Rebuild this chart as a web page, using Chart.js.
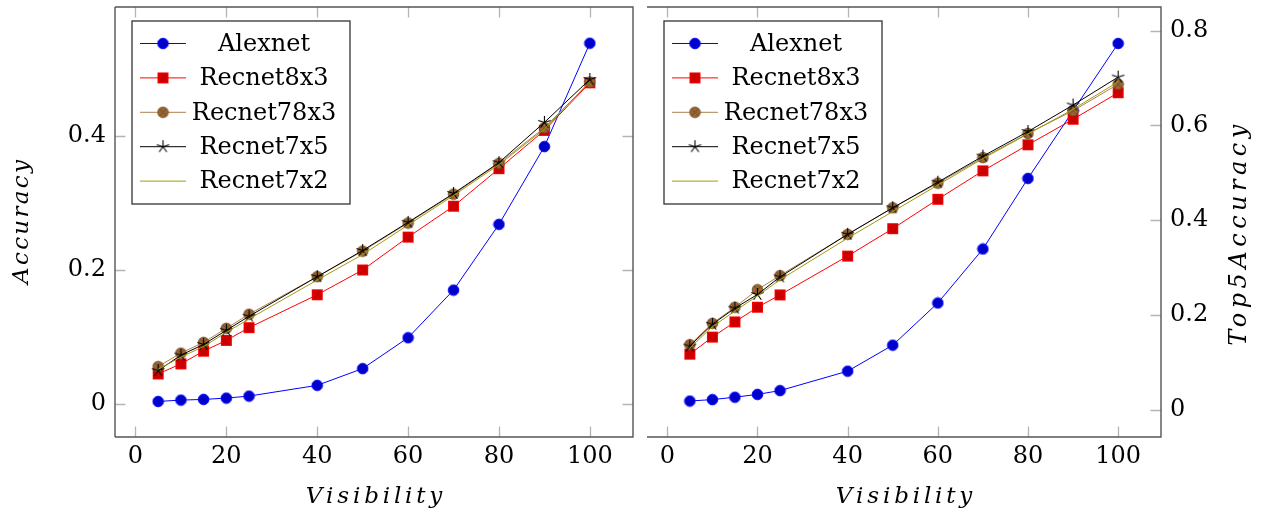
<!DOCTYPE html>
<html>
<head>
<meta charset="utf-8">
<script src="https://cdn.jsdelivr.net/npm/chart.js@4.4.1/dist/chart.umd.min.js"></script>
<style>
html, body { margin: 0; padding: 0; background: #fff; }
#wrap { position: relative; width: 1264px; height: 517px; }
.box { position: absolute; top: 0; height: 517px; }
</style>
</head>
<body>
<div id="wrap">
  <div class="box" style="left:0;width:640px"><canvas id="accChart"></canvas></div>
  <div class="box" style="left:640px;width:624px"><canvas id="top5Chart"></canvas></div>
</div>
<script>
var visibility = [5, 10, 15, 20, 25, 40, 50, 60, 70, 80, 90, 100];
var seriesNames = ['Alexnet', 'Recnet8x3', 'Recnet78x3', 'Recnet7x5', 'Recnet7x2'];

// left panel: accuracy
var accAlexnet    = [0.004, 0.006, 0.007, 0.009, 0.012, 0.028, 0.053, 0.099, 0.170, 0.268, 0.384, 0.538];
var accRecnet8x3  = [0.045, 0.060, 0.079, 0.095, 0.114, 0.163, 0.200, 0.249, 0.295, 0.351, 0.408, 0.479];
var accRecnet78x3 = [0.056, 0.076, 0.092, 0.113, 0.134, 0.190, 0.228, 0.270, 0.313, 0.359, 0.412, 0.480];
var accRecnet7x5  = [0.050, 0.073, 0.089, 0.110, 0.131, 0.190, 0.229, 0.271, 0.314, 0.360, 0.420, 0.484];
var accRecnet7x2  = [0.052, 0.070, 0.086, 0.107, 0.127, 0.185, 0.223, 0.267, 0.311, 0.357, 0.410, 0.481];

// right panel: top-5 accuracy
var top5Alexnet    = [0.018, 0.021, 0.026, 0.032, 0.040, 0.081, 0.136, 0.225, 0.339, 0.488, 0.631, 0.773];
var top5Recnet8x3  = [0.117, 0.153, 0.185, 0.216, 0.242, 0.324, 0.382, 0.444, 0.504, 0.559, 0.613, 0.669];
var top5Recnet78x3 = [0.137, 0.182, 0.216, 0.253, 0.283, 0.370, 0.426, 0.478, 0.532, 0.583, 0.631, 0.687];
var top5Recnet7x5  = [0.134, 0.180, 0.214, 0.243, 0.280, 0.370, 0.426, 0.480, 0.535, 0.587, 0.643, 0.702];
var top5Recnet7x2  = [0.130, 0.175, 0.208, 0.240, 0.274, 0.362, 0.418, 0.474, 0.530, 0.582, 0.634, 0.692];

var xTicks = [0, 20, 40, 60, 80, 100];
var xTickLabels = ['0', '20', '40', '60', '80', '100'];
var accTicks = [0, 0.2, 0.4];
var accTickLabels = ['0', '0.2', '0.4'];
var top5Ticks = [0, 0.2, 0.4, 0.6, 0.8];
var top5TickLabels = ['0', '0.2', '0.4', '0.6', '0.8'];

Chart.defaults.font.family = 'DejaVu Serif';
Chart.defaults.font.size = 24;
Chart.defaults.color = '#000';

// marker images, pgfplots style
function makeMark(size, draw) {
    var c = document.createElement('canvas');
    c.width = size; c.height = size;
    var g = c.getContext('2d');
    draw(g, size / 2);
    return c;
}
var markCircle = makeMark(13, function (g, m) {
    g.beginPath(); g.arc(m, m, 5.3, 0, Math.PI * 2);
    g.fillStyle = '#0000cc'; g.fill();
    g.strokeStyle = '#0000ff'; g.lineWidth = 1; g.stroke();
});
var markSquare = makeMark(13, function (g, m) {
    g.fillStyle = '#cc0000'; g.fillRect(m - 5, m - 5, 10, 10);
    g.strokeStyle = '#ff0000'; g.lineWidth = 1; g.strokeRect(m - 5, m - 5, 10, 10);
});
var markOtimes = makeMark(13, function (g, m) {
    g.beginPath(); g.arc(m, m, 5.3, 0, Math.PI * 2);
    g.fillStyle = '#996633'; g.fill();
    g.strokeStyle = '#6e4822'; g.lineWidth = 0.9; g.stroke();
    var d = 5.3 * Math.SQRT1_2;
    g.beginPath();
    g.moveTo(m - d, m - d); g.lineTo(m + d, m + d);
    g.moveTo(m + d, m - d); g.lineTo(m - d, m + d);
    g.stroke();
});
var markStar = makeMark(15, function (g, m) {
    g.strokeStyle = '#000'; g.lineWidth = 1.1;
    g.beginPath();
    for (var k = 0; k < 5; k++) {
        var ang = -Math.PI / 2 + k * 2 * Math.PI / 5;
        g.moveTo(m, m); g.lineTo(m + 6.5 * Math.cos(ang), m + 6.5 * Math.sin(ang));
    }
    g.stroke();
});

var lineColors = ['#0000ff', '#ff0000', '#b08050', '#000000', '#a09a10'];
var marks = [markCircle, markSquare, markOtimes, markStar, false];

function buildDatasets(list) {
    return list.map(function (arr, i) {
        return {
            label: seriesNames[i],
            data: visibility.map(function (v, j) { return { x: v, y: arr[j] }; }),
            borderColor: lineColors[i],
            backgroundColor: lineColors[i],
            borderWidth: 1,
            pointStyle: marks[i],
            pointRadius: marks[i] ? 6 : 0,
            pointHoverRadius: marks[i] ? 6 : 0,
            order: 4 - i
        };
    });
}

function noPad(s) {
    s.paddingTop = 0; s.paddingBottom = 0; s.paddingLeft = 0; s.paddingRight = 0;
}

// frame, inner ticks, boxed legend, right-hand title
var framePlugin = {
    id: 'frame',
    beforeDatasetsDraw: function (chart, args, opts) {
        var a = chart.chartArea, ctx = chart.ctx;
        var xs = chart.scales.x, ys = chart.scales.y;
        ctx.save();
        ctx.strokeStyle = '#b4b4b4';
        ctx.lineWidth = 1.3;
        ctx.beginPath();
        xTicks.forEach(function (v) {
            var px = Math.round(xs.getPixelForValue(v)) + 0.5;
            ctx.moveTo(px, a.bottom); ctx.lineTo(px, a.bottom - 10.5);
            ctx.moveTo(px, a.top); ctx.lineTo(px, a.top + 10.5);
        });
        opts.yTicks.forEach(function (v) {
            var py = Math.round(ys.getPixelForValue(v)) + 0.5;
            if (opts.leftTicks) { ctx.moveTo(a.left, py); ctx.lineTo(a.left + 10.5, py); }
            ctx.moveTo(a.right, py); ctx.lineTo(a.right - 10.5, py);
        });
        ctx.stroke();
        ctx.strokeStyle = '#555';
        ctx.lineWidth = 1.4;
        ctx.beginPath();
        if (opts.leftLine) {
            ctx.moveTo(a.left, a.top); ctx.lineTo(a.left, a.bottom);
        }
        ctx.moveTo(a.left, a.top); ctx.lineTo(a.right, a.top);
        ctx.lineTo(a.right, a.bottom); ctx.lineTo(a.left, a.bottom);
        ctx.stroke();
        ctx.restore();
    },
    afterDraw: function (chart, args, opts) {
        var a = chart.chartArea, ctx = chart.ctx;
        var bx = a.left + 17, by = a.top + 14, bw = 218, bh = 183;
        ctx.save();
        ctx.fillStyle = '#fff';
        ctx.fillRect(bx, by, bw, bh);
        ctx.strokeStyle = '#333';
        ctx.lineWidth = 1.3;
        ctx.strokeRect(bx, by, bw, bh);
        chart.data.datasets.forEach(function (ds, i) {
            var ry = by + 22.5 + 34.4 * i;
            ctx.strokeStyle = ds.borderColor;
            ctx.lineWidth = 1;
            ctx.beginPath();
            ctx.moveTo(bx + 8, ry); ctx.lineTo(bx + 54, ry);
            ctx.stroke();
            if (ds.pointStyle) {
                var img = ds.pointStyle;
                ctx.drawImage(img, bx + 31 - img.width / 2, ry - img.height / 2);
            }
            ctx.fillStyle = '#000';
            ctx.font = '24px "DejaVu Serif"';
            ctx.textAlign = 'center';
            ctx.textBaseline = 'middle';
            ctx.fillText(ds.label, bx + 132, ry + 1);
        });
        if (opts.sideTitle) {
            ctx.translate(opts.sideTitleX, (a.top + a.bottom) / 2 + 11);
            ctx.rotate(-Math.PI / 2);
            ctx.font = 'italic 24px "DejaVu Serif"';
            ctx.letterSpacing = '4.5px';
            ctx.fillStyle = '#000';
            ctx.textAlign = 'center';
            ctx.textBaseline = 'middle';
            ctx.fillText(opts.sideTitle, 0, 0);
        }
        ctx.restore();
    }
};

function xScale() {
    return {
        type: 'linear',
        position: 'bottom',
        min: -4.5,
        max: 109.5,
        afterBuildTicks: function (s) { s.ticks = xTicks.map(function (v) { return { value: v }; }); },
        afterFit: function (s) { s.height = 80; noPad(s); },
        grid: { display: false, drawTicks: false },
        border: { display: false },
        ticks: {
            autoSkip: false, maxRotation: 0, padding: 5,
            callback: function (v, i) { return xTickLabels[i]; }
        },
        title: {
            display: true,
            text: 'V\u2006i\u2006s\u2006i\u2006b\u2006i\u2006l\u2006i\u2006t\u2006y',
            font: { style: 'italic', size: 23 },
            padding: { top: 0, bottom: 6 }
        }
    };
}

new Chart(document.getElementById('accChart'), {
    type: 'line',
    data: {
        datasets: buildDatasets([accAlexnet, accRecnet8x3, accRecnet78x3, accRecnet7x5, accRecnet7x2])
    },
    options: {
        responsive: true,
        maintainAspectRatio: false,
        animation: false,
        layout: { padding: { left: 0, right: 6, top: 6, bottom: 0 } },
        plugins: {
            legend: { display: false },
            tooltip: { enabled: false },
            frame: { yTicks: accTicks, leftTicks: true, leftLine: true }
        },
        scales: {
            x: xScale(),
            y: {
                type: 'linear',
                position: 'left',
                min: -0.049,
                max: 0.592,
                afterBuildTicks: function (s) { s.ticks = accTicks.map(function (v) { return { value: v }; }); },
                afterFit: function (s) { s.width = 115; noPad(s); },
                grid: { display: false, drawTicks: false },
                border: { display: false },
                ticks: {
                    padding: 9,
                    callback: function (v, i) { return accTickLabels[i]; }
                },
                title: {
                    display: true,
                    text: 'A\u200Ac\u200Ac\u200Au\u200Ar\u200Aa\u200Ac\u200Ay',
                    font: { style: 'italic', size: 23 },
                    padding: { top: 8, bottom: 8 }
                }
            }
        }
    },
    plugins: [framePlugin]
});

new Chart(document.getElementById('top5Chart'), {
    type: 'line',
    data: {
        datasets: buildDatasets([top5Alexnet, top5Recnet8x3, top5Recnet78x3, top5Recnet7x5, top5Recnet7x2])
    },
    options: {
        responsive: true,
        maintainAspectRatio: false,
        animation: false,
        layout: { padding: { left: 2, right: 0, top: 6, bottom: 0 } },
        plugins: {
            legend: { display: false },
            tooltip: { enabled: false },
            frame: { yTicks: top5Ticks, leftTicks: false, leftLine: false, sideTitle: 'Top5Accuracy', sideTitleX: 600 }
        },
        scales: {
            x: xScale(),
            y: {
                type: 'linear',
                position: 'right',
                min: -0.058,
                max: 0.85,
                afterBuildTicks: function (s) { s.ticks = top5Ticks.map(function (v) { return { value: v }; }); },
                afterFit: function (s) { s.width = 103; noPad(s); },
                grid: { display: false, drawTicks: false },
                border: { display: false },
                ticks: {
                    padding: 9,
                    callback: function (v, i) { return top5TickLabels[i]; }
                },
                title: { display: false }
            }
        }
    },
    plugins: [framePlugin]
});
</script>
</body>
</html>
